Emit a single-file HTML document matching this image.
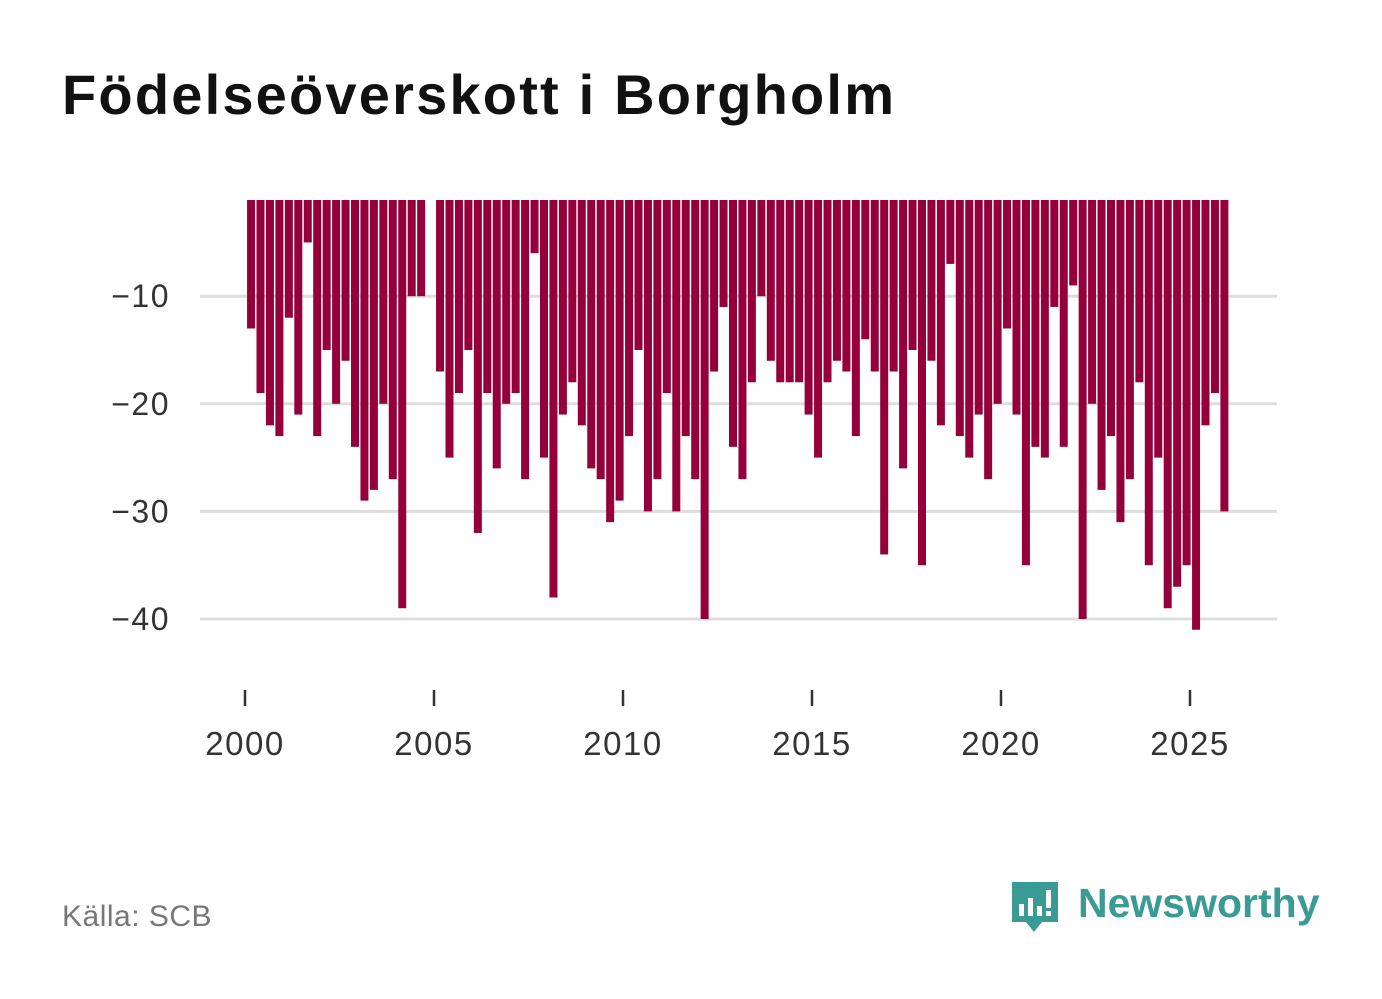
<!DOCTYPE html>
<html><head><meta charset="utf-8">
<style>
html,body{margin:0;padding:0;background:#fff;}
body{width:1382px;height:999px;position:relative;overflow:hidden;font-family:"Liberation Sans","DejaVu Sans",sans-serif;}
#title{position:absolute;left:62px;top:62px;font-size:56px;font-weight:bold;color:#111;margin:0;letter-spacing:2.2px;}
#source{position:absolute;left:62px;top:900px;font-size:30px;color:#777;letter-spacing:0.5px;}
#logo{position:absolute;left:1010px;top:878px;}
</style></head>
<body>
<h1 id="title">Födelseöverskott i Borgholm</h1>
<svg id="chart" width="1382" height="999" style="position:absolute;left:0;top:0"></svg>
<div id="source">Källa: SCB</div>
<div id="logo">
<svg width="320" height="64">
<path d="M2 4 h46 v40 h-16 l-8 10 l-8 -10 h-14 z" fill="#3a9a94"/>
<rect x="9" y="26" width="5" height="12" fill="#fff"/><rect x="18" y="20" width="5" height="18" fill="#fff"/><rect x="27" y="28" width="5" height="10" fill="#fff"/><rect x="36" y="12" width="5" height="18" fill="#fff"/><rect x="36" y="33" width="5" height="5" fill="#fff"/>
<text x="68" y="39" font-family="Liberation Sans, sans-serif" font-size="41" font-weight="bold" fill="#3a9a94">Newsworthy</text>
</svg></div>
<script>
const values = [-13,-19,-22,-23,-12,-21,-5,-23,-15,-20,-16,-24,-29,-28,-20,-27,-39,-10,-10,null,
-17,-25,-19,-15,-32,-19,-26,-20,-19,-27,-6,-25,-38,-21,-18,-22,-26,-27,-31,-29,
-23,-15,-30,-27,-19,-30,-23,-27,-40,-17,-11,-24,-27,-18,-10,-16,-18,-18,-18,-21,
-25,-18,-16,-17,-23,-14,-17,-34,-17,-26,-15,-35,-16,-22,-7,-23,-25,-21,-27,-20,
-13,-21,-35,-24,-25,-11,-24,-9,-40,-20,-28,-23,-31,-27,-18,-35,-25,-39,-37,-35,
-41,-22,-19,-30];
const startYear = 2000;
const yTicks = [-10,-20,-30,-40];
const xTicks = [2000,2005,2010,2015,2020,2025];
const NS='http://www.w3.org/2000/svg';
const svg=document.getElementById('chart');
function x(t){return 245+(t-2000)*37.8;}
function y(v){return 188.6-v*10.76;}
const top0=200;
function mk(tag,attrs){const e=document.createElementNS(NS,tag);for(const k in attrs)e.setAttribute(k,attrs[k]);svg.appendChild(e);return e;}
yTicks.forEach(v=>{
  const l=mk('line',{x1:200,x2:1277,y1:y(v),y2:y(v),stroke:'#dddddd','stroke-width':3});
  
  
  const t=mk('text',{x:170,y:y(v)+11,'text-anchor':'end','font-size':32,'letter-spacing':1.5,fill:'#333','font-family':'Liberation Sans, sans-serif'});
  t.textContent='\u2212'+Math.abs(v);
  
  
});
values.forEach((v,i)=>{
  if(v===null)return;
  const t=startYear+0.16+i*0.25;
  const r=mk('rect',{x:x(t)-4,y:top0,width:8,height:Math.max(0,y(v)-top0),fill:'#95003a'});
  
  
});
xTicks.forEach(yr=>{
  const l=mk('line',{x1:x(yr),x2:x(yr),y1:690,y2:706,stroke:'#333','stroke-width':2.5});
  
  
  const t=mk('text',{x:x(yr),y:755,'text-anchor':'middle','font-size':33,'letter-spacing':1.5,fill:'#333','font-family':'Liberation Sans, sans-serif'});
  t.textContent=yr;
  
  
});
</script>
</body></html>
